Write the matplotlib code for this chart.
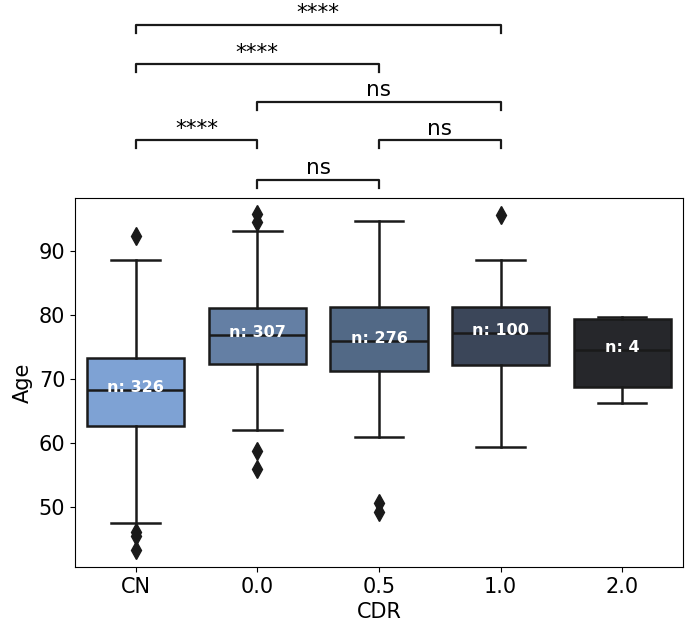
import matplotlib
matplotlib.use("Agg")
import matplotlib.pyplot as plt
import matplotlib.transforms as mtransforms

# Valores
categories = ["CN", "0.0", "0.5", "1.0", "2.0"]
counts = [326, 307, 276, 100, 4]
medians = [68.3, 76.8, 75.9, 77.2, 74.5]
q1 = [62.7, 72.3, 71.2, 72.2, 68.7]
q3 = [73.2, 81.0, 81.2, 81.2, 79.4]
whislo = [47.5, 62.0, 60.9, 59.4, 66.2]
whishi = [88.5, 93.1, 94.6, 88.5, 79.6]
fliers = [
    [92.3, 46.2, 45.6, 43.4],
    [95.7, 94.4, 58.7, 56.0],
    [50.6, 49.2],
    [95.6],
    [],
]
colors = ["#7ea2d4", "#647fa4", "#526986", "#3b4659", "#26272b"]

# Comparaciones (grupo a, grupo b, texto)
pairs = [(1, 2, "ns"), (0, 1, "****"), (2, 3, "ns"),
         (1, 3, "ns"), (0, 2, "****"), (0, 3, "****")]
pair_levels = [1.049, 1.157, 1.157, 1.261, 1.363, 1.469]


def build_stats():
    stats = []
    for i, name in enumerate(categories):
        stats.append({
            "label": name, "med": medians[i], "q1": q1[i], "q3": q3[i],
            "whislo": whislo[i], "whishi": whishi[i], "fliers": fliers[i],
        })
    return stats


def main():
    fig = plt.figure(figsize=(6.85, 6.29), dpi=100)
    ax = fig.add_axes([0.1095, 0.0986, 0.8875, 0.5866])

    lw = 1.8
    bp = ax.bxp(build_stats(), positions=range(len(categories)), widths=0.8,
                patch_artist=True, showfliers=True,
                boxprops=dict(edgecolor="#1a1a1a", linewidth=lw),
                medianprops=dict(color="#1a1a1a", linewidth=lw),
                whiskerprops=dict(color="#1a1a1a", linewidth=lw),
                capprops=dict(color="#1a1a1a", linewidth=lw),
                flierprops=dict(marker="d", markersize=9, markerfacecolor="#1a1a1a",
                                markeredgecolor="#1a1a1a", linestyle="none"))
    for patch, c in zip(bp["boxes"], colors):
        patch.set_facecolor(c)

    for i, n in enumerate(counts):
        ax.text(i, medians[i] - 0.3, f"n: {n}", ha="center", va="baseline",
                color="white", fontsize=11.5, fontweight="bold")

    ax.set_xlim(-0.5, 4.5)
    ax.set_ylim(40.7, 98.2)
    ax.set_yticks([50, 60, 70, 80, 90])
    ax.set_xticks(range(len(categories)))
    ax.set_xticklabels(categories)
    ax.tick_params(labelsize=15)
    ax.set_xlabel("CDR", fontsize=15)
    ax.set_ylabel("Age", fontsize=15)

    # Corchetes de significancia
    trans = mtransforms.blended_transform_factory(ax.transData, ax.transAxes)
    h = 0.022
    for (a, b, label), lev in zip(pairs, pair_levels):
        ax.plot([a, a, b, b], [lev - h, lev, lev, lev - h], color="#1a1a1a",
                lw=1.6, transform=trans, clip_on=False)
        ax.text((a + b) / 2, lev + 0.004, label, ha="center", va="bottom",
                fontsize=15.5, transform=trans)

    fig.savefig("out.png", dpi=100)
    plt.close(fig)


if __name__ == "__main__":
    main()
